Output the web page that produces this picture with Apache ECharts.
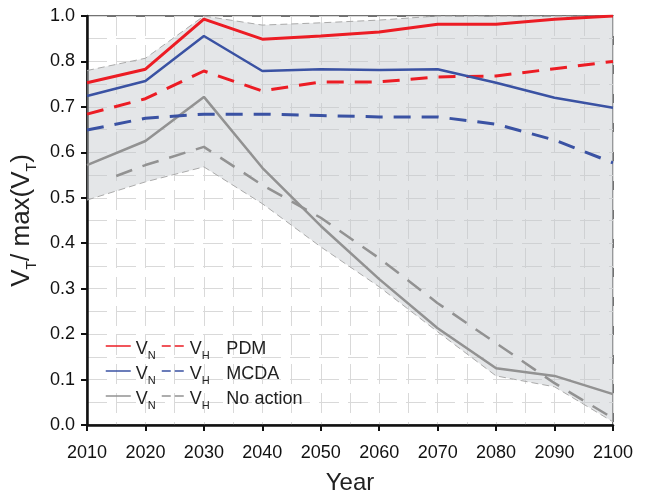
<!DOCTYPE html>
<html><head><meta charset="utf-8">
<script src="https://cdn.jsdelivr.net/npm/echarts@6/dist/echarts.min.js"></script>
<style>html,body{margin:0;padding:0;background:#fff}#c{width:646px;height:495px}</style>
</head><body><div id="c"></div>
<script>
// ---- data ----
var years = [2010, 2020, 2030, 2040, 2050, 2060, 2070, 2080, 2090, 2100];
var pdmVN = [0.753, 0.783, 0.893, 0.849, 0.856, 0.865, 0.882, 0.882, 0.893, 0.900];
var pdmVH = [0.684, 0.718, 0.779, 0.735, 0.755, 0.755, 0.766, 0.768, 0.784, 0.800];
var mcdaVN = [0.724, 0.757, 0.856, 0.779, 0.783, 0.781, 0.783, 0.753, 0.720, 0.698];
var mcdaVH = [0.649, 0.675, 0.684, 0.684, 0.681, 0.678, 0.678, 0.662, 0.627, 0.577];
var noActVN = [0.572, 0.625, 0.722, 0.566, 0.438, 0.321, 0.213, 0.125, 0.108, 0.068];
var noActVHYears = [2015, 2020, 2030, 2040, 2050, 2060, 2070, 2080, 2090, 2100];
var noActVH = [0.548, 0.572, 0.612, 0.528, 0.456, 0.367, 0.268, 0.180, 0.092, 0.015];
var bandUpper = [0.780, 0.807, 0.900, 0.880, 0.885, 0.891, 0.900, 0.900, 0.900, 0.900];
var bandLower = [0.495, 0.535, 0.568, 0.487, 0.392, 0.304, 0.205, 0.108, 0.084, 0.007];
var yTickLabels = ['0.0', '0.1', '0.2', '0.3', '0.4', '0.5', '0.6', '0.7', '0.8', '1.0'];

function pairs(xs, ys) { return xs.map(function (x, i) { return [x, ys[i]]; }); }

var RED = '#ec1c24', BLUE = '#3a52a3', GRAY = '#929292';
var FONT = 'Liberation Sans';
var GRIDC = '#d9d9d9';

function lineSeries(name, xs, ys, color, dashed, width, z) {
  return {
    name: name, type: 'line', data: pairs(xs, ys), symbol: 'none', z: z,
    lineStyle: { color: color, width: width, type: dashed ? [17, 11] : 'solid' },
    itemStyle: { color: color }
  };
}

var richLegend = {
  v: { fontSize: 18, fontFamily: FONT, color: '#222', lineHeight: 18, padding: [3, 0, 3, 0], verticalAlign: 'top' },
  s: { fontSize: 11, fontFamily: FONT, color: '#222', lineHeight: 11, padding: [13, 0, 0, 0], verticalAlign: 'top' },
  l: { fontSize: 18, fontFamily: FONT, color: '#222', lineHeight: 18, padding: [3, 0, 3, 0], verticalAlign: 'top' }
};

var chart = echarts.init(document.getElementById('c'));
chart.setOption({
  animation: false,
  grid: { left: 87, right: 33, top: 16, bottom: 70, containLabel: false, outerBoundsMode: 'none',
    show: true, borderColor: '#444', borderWidth: 1.5, backgroundColor: 'transparent' },
  xAxis: {
    type: 'value', min: 2010, max: 2100, interval: 10,
    name: 'Year', nameLocation: 'middle', nameGap: 46,
    nameTextStyle: { fontSize: 24, fontFamily: FONT, color: '#222' },
    axisLine: { lineStyle: { color: '#111', width: 2.5 } },
    axisTick: { length: 6, lineStyle: { color: '#111', width: 2 } },
    axisLabel: { fontSize: 18, fontFamily: FONT, color: '#111', margin: 19, formatter: function (v) { return String(v); } },
    splitLine: { show: true, lineStyle: { color: GRIDC, width: 1, type: [20, 9] } },
    minorTick: { show: false, splitNumber: 2 },
    minorSplitLine: { show: true, lineStyle: { color: GRIDC, width: 1, type: [20, 9] } }
  },
  yAxis: {
    type: 'value', min: 0, max: 0.9, interval: 0.1,
    name: '{v|V}{s|T}{v|/ max(V}{s|T}{v|)}', nameLocation: 'middle', nameGap: 41, nameRotate: 90,
    nameTextStyle: {
      rich: {
        v: { fontSize: 26, fontFamily: FONT, color: '#222', lineHeight: 26, padding: [4, 0, 4, 0], verticalAlign: 'top' },
        s: { fontSize: 14, fontFamily: FONT, color: '#222', lineHeight: 14, padding: [20, 0, 0, 0], verticalAlign: 'top' }
      }
    },
    axisLine: { show: true, lineStyle: { color: '#111', width: 2.5 } },
    axisTick: { show: true, length: 6, lineStyle: { color: '#111', width: 2 } },
    axisLabel: { fontSize: 18, fontFamily: FONT, color: '#111', margin: 12,
      formatter: function (v) { return yTickLabels[Math.round(v * 10)]; } },
    splitLine: { show: true, lineStyle: { color: GRIDC, width: 1, type: [20, 9] } },
    minorTick: { show: false, splitNumber: 2 },
    minorSplitLine: { show: true, lineStyle: { color: GRIDC, width: 1, type: [20, 9] } }
  },
  legend: [
    {
      data: ['PDM V_N', 'MCDA V_N', 'No action V_N'], orient: 'vertical', left: 105, top: 337, padding: 0,
      itemWidth: 25, itemHeight: 14, itemGap: 1,
      lineStyle: { width: 1.5 }, itemStyle: { opacity: 0 },
      formatter: function () { return '{v|V}{s|N}'; },
      textStyle: { rich: richLegend }, selectedMode: false
    },
    {
      data: ['PDM V_H', 'MCDA V_H', 'No action V_H'], orient: 'vertical', left: 161, top: 337, padding: 0,
      itemWidth: 23, itemHeight: 14, itemGap: 1,
      lineStyle: { width: 1.5, type: [9, 4] }, itemStyle: { opacity: 0 },
      formatter: function (name) { return '{v|V}{s|H}     {l|' + name.replace(' V_H', '') + '}'; },
      textStyle: { rich: richLegend }, selectedMode: false
    }
  ],
  series: [
    {
      name: 'band', type: 'custom', z: 1, silent: true,
      data: years.map(function (y, i) { return [y, bandLower[i], bandUpper[i]]; }),
      encode: { x: 0, y: [1, 2] },
      renderItem: function (params, api) {
        if (params.dataIndex !== 0) return null;
        var pts = [], i;
        for (i = 0; i < years.length; i++) pts.push(api.coord([years[i], bandUpper[i]]));
        for (i = years.length - 1; i >= 0; i--) pts.push(api.coord([years[i], bandLower[i]]));
        return { type: 'polygon', shape: { points: pts }, style: { fill: 'rgba(196,199,205,0.45)' } };
      }
    },
    {
      name: 'bandLowerEdge', type: 'line', symbol: 'none', z: 2,
      data: pairs(years, bandLower),
      lineStyle: { color: '#aaaaaa', width: 1, type: [7, 4] }
    },
    {
      name: 'bandUpperEdge', type: 'line', symbol: 'none', z: 2,
      data: pairs(years, bandUpper),
      lineStyle: { color: '#aaaaaa', width: 1, type: [7, 4] }
    },
    lineSeries('No action V_N', years, noActVN, GRAY, false, 2.5, 3),
    lineSeries('No action V_H', noActVHYears, noActVH, GRAY, true, 2.5, 3),
    lineSeries('MCDA V_H', years, mcdaVH, BLUE, true, 3, 4),
    lineSeries('PDM V_H', years, pdmVH, RED, true, 3, 4),
    lineSeries('MCDA V_N', years, mcdaVN, BLUE, false, 2.5, 5),
    lineSeries('PDM V_N', years, pdmVN, RED, false, 3, 6)
  ]
});
</script></body></html>
